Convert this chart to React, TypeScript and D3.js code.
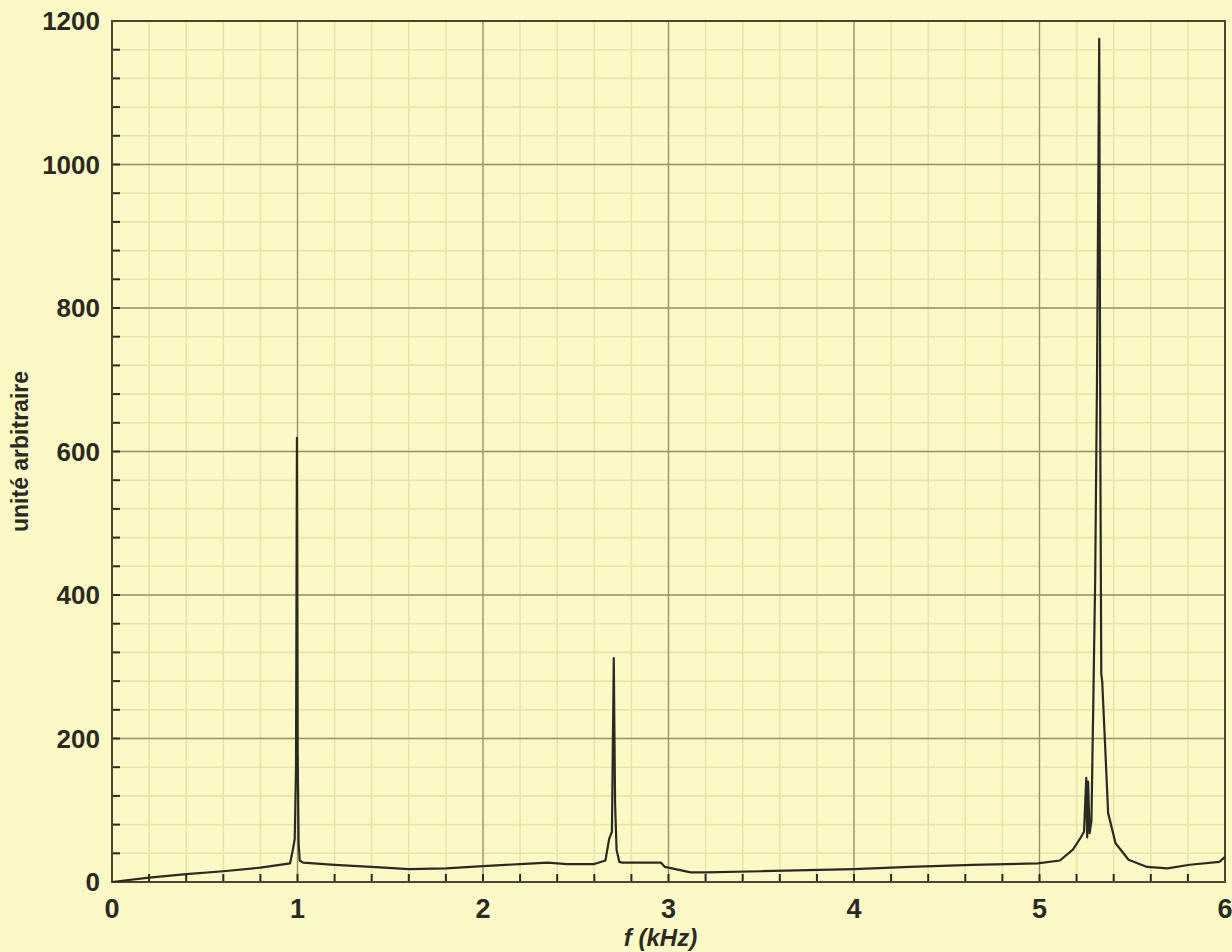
import * as d3 from 'd3';

// spectrum (f in kHz, amplitude in arbitrary units)
const freqs = [
  0, 0.2, 0.4, 0.6, 0.8, 0.96, 0.975, 0.985, 0.992, 0.997, 1.001, 1.006, 1.012, 1.03,
  1.2, 1.4, 1.6, 1.8, 2.0, 2.2, 2.35, 2.45, 2.6, 2.66, 2.68, 2.695, 2.705, 2.712, 2.72, 2.735,
  2.75, 2.85, 2.96, 2.98, 3.12, 3.2, 3.5, 4.0, 4.3, 4.64, 4.99, 5.11, 5.18, 5.22, 5.24,
  5.252, 5.257, 5.262, 5.27, 5.28, 5.29, 5.30, 5.31, 5.322, 5.328, 5.333, 5.338, 5.352,
  5.37, 5.41, 5.48, 5.58, 5.69, 5.81, 5.97, 6.0,
];
const amps = [
  0, 6, 11, 15, 20, 26, 45, 60, 160, 619, 180, 55, 30, 27,
  24, 21, 18, 19, 22, 25, 27, 25, 25, 30, 60, 70, 312, 110, 45, 28,
  27, 27, 27, 21, 13.5, 13.5, 15, 18, 21, 24, 26, 30, 45, 61, 70,
  145, 62, 140, 68, 85, 250, 420, 700, 1175, 600, 290, 280, 200,
  96, 54, 31, 21, 19, 24, 28, 35,
];

const xTicks = [0, 1, 2, 3, 4, 5, 6];
const yTicks = [0, 200, 400, 600, 800, 1000, 1200];
const xLabel = 'f (kHz)';
const yLabel = 'unité arbitraire';

const W = 1232;
const H = 952;
const margin = { left: 112, top: 21, right: 7, bottom: 70 };

const bg = '#fcf9c6';
const ink = '#2b2a22';

const App = () => {
  const x = d3.scaleLinear().domain([0, 6]).range([margin.left, W - margin.right]);
  const y = d3.scaleLinear().domain([0, 1200]).range([H - margin.bottom, margin.top]);

  const minorX = d3.range(0, 6.0001, 0.2);
  const minorY = d3.range(0, 1200.001, 40);

  const line = d3.line<number>()
    .x((_, i) => x(freqs[i]))
    .y(d => y(d));

  const [x0, x1] = x.range();
  const [y0, y1] = y.range();

  return (
    <svg width={W} height={H} style={{ position: 'absolute', left: 0, top: 0, background: bg }}
      fontFamily="'Liberation Sans', Arial, sans-serif">
      <rect x={0} y={0} width={W} height={H} fill={bg} />

      {/* minor grid */}
      {minorX.map((v, i) => (
        <line key={'mx' + i} x1={x(v)} x2={x(v)} y1={y1} y2={y0} stroke="#e9e4ab" strokeWidth={1.6} />
      ))}
      {minorY.map((v, i) => (
        <line key={'my' + i} x1={x0} x2={x1} y1={y(v)} y2={y(v)} stroke="#e9e4ab" strokeWidth={1.6} />
      ))}

      {/* major grid */}
      {xTicks.map(v => (
        <line key={'gx' + v} x1={x(v)} x2={x(v)} y1={y1} y2={y0} stroke="#96936a" strokeWidth={1.3} />
      ))}
      {yTicks.map(v => (
        <line key={'gy' + v} x1={x0} x2={x1} y1={y(v)} y2={y(v)} stroke="#96936a" strokeWidth={1.3} />
      ))}

      {/* inner ticks */}
      {minorX.map((v, i) => (
        <line key={'tx' + i} x1={x(v)} x2={x(v)} y1={y0} y2={y0 - 8} stroke={ink} strokeWidth={2} />
      ))}
      {minorY.map((v, i) => (
        <line key={'ty' + i} x1={x0} x2={x0 + 8} y1={y(v)} y2={y(v)} stroke={ink} strokeWidth={2} />
      ))}

      {/* frame */}
      <rect x={x0} y={y1} width={x1 - x0} height={y0 - y1} fill="none" stroke="#4a4730" strokeWidth={2} />

      {/* spectrum */}
      <path d={line(amps) ?? ''} fill="none" stroke={ink} strokeWidth={2.2} strokeLinejoin="round" />

      {/* tick labels */}
      {yTicks.map(v => (
        <text key={'ly' + v} x={x0 - 12} y={y(v)} dy="0.36em" textAnchor="end"
          fontSize={26} fontWeight="bold" fill={ink}>{v}</text>
      ))}
      {xTicks.map(v => (
        <text key={'lx' + v} x={x(v)} y={y0 + 26} dy="0.36em" textAnchor="middle"
          fontSize={27} fontWeight="bold" fill={ink}>{v}</text>
      ))}

      {/* axis titles */}
      <text x={(x0 + x1) / 2 - 8} y={y0 + 64} textAnchor="middle" fontSize={24}
        fontWeight="bold" fontStyle="italic" fill={ink}>{xLabel}</text>
      <text transform={`translate(28, ${(y0 + y1) / 2}) rotate(-90)`} textAnchor="middle"
        fontSize={23} fontWeight="bold" fill={ink}>{yLabel}</text>
    </svg>
  );
};

export default App;
